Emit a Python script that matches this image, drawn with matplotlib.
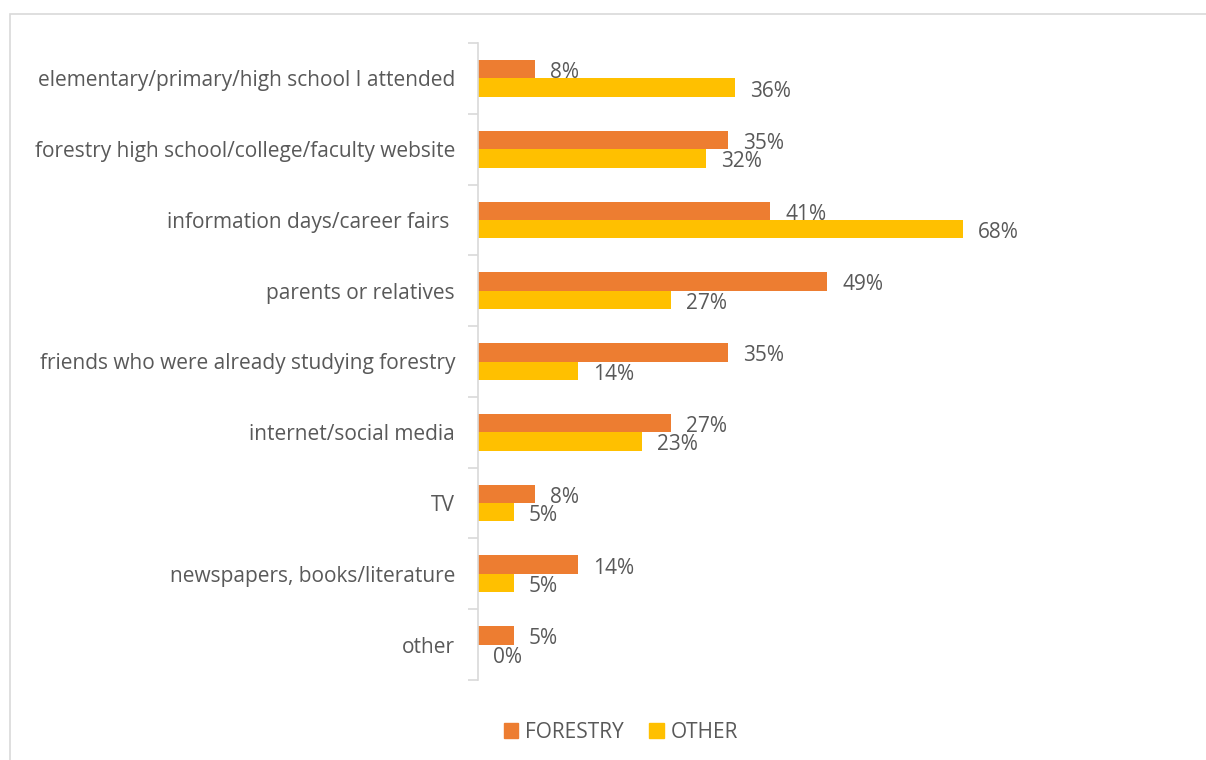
import numpy as np
import matplotlib.pyplot as plt
from matplotlib.patches import Rectangle, Patch

plt.rcParams['font.family'] = ['Open Sans', 'DejaVu Sans']

# Survey answers: where respondents learned about their study programme
categories = [
    'elementary/primary/high school I attended',
    'forestry high school/college/faculty website',
    'information days/career fairs ',
    'parents or relatives',
    'friends who were already studying forestry',
    'internet/social media',
    'TV',
    'newspapers, books/literature',
    'other',
]
forestry = [8, 35, 41, 49, 35, 27, 8, 14, 5]
other = [36, 32, 68, 27, 14, 23, 5, 5, 0]

ORANGE = '#ED7D31'
GOLD = '#FFC000'
TEXT = '#595959'
GRID = '#D9D9D9'
FS = 15

W, H = 1206, 760
fig = plt.figure(figsize=(W / 100, H / 100), dpi=100)

# light chart-area frame
fig.patches.append(Rectangle((10 / W, -0.1), 1.2, 1.1 - 14 / H,
                             transform=fig.transFigure, fill=False,
                             edgecolor=GRID, linewidth=1.2))

ax = fig.add_axes([478 / W, 1 - 680 / H, 713 / W, (680 - 43) / H])

n = len(categories)
y = np.arange(n)
h = 0.26
b1 = ax.barh(y - h / 2, forestry, height=h, color=ORANGE, label='FORESTRY')
b2 = ax.barh(y + h / 2, other, height=h, color=GOLD, label='OTHER')

for bars, vals in ((b1, forestry), (b2, other)):
    for bar, v in zip(bars, vals):
        ax.annotate(f'{v}%', (v, bar.get_y() + bar.get_height() / 2),
                    xytext=(11, -2.5), textcoords='offset points',
                    va='center', ha='left', fontsize=FS, color=TEXT)

ax.set_xlim(0, 100)
ax.set_ylim(n - 0.5, -0.5)
ax.set_xticks([])
ax.set_yticks(y)
ax.set_yticklabels(categories, fontsize=FS, color=TEXT)
ax.tick_params(axis='y', length=0, pad=16.5)
ax.set_yticks(np.arange(n + 1) - 0.5, minor=True)
ax.tick_params(axis='y', which='minor', length=7, color=GRID, width=1.2)

for side in ('top', 'right', 'bottom'):
    ax.spines[side].set_visible(False)
ax.spines['left'].set_color(GRID)
ax.spines['left'].set_linewidth(1.2)

handles = [Patch(color=ORANGE, label='FORESTRY'), Patch(color=GOLD, label='OTHER')]
fig.legend(handles=handles, loc='center', bbox_to_anchor=(621 / W, 1 - 732 / H),
           ncol=2, frameon=False, fontsize=FS, labelcolor=TEXT,
           handlelength=0.7, handleheight=0.7, handletextpad=0.35,
           columnspacing=1.2)

fig.savefig('out.png', dpi=100)
